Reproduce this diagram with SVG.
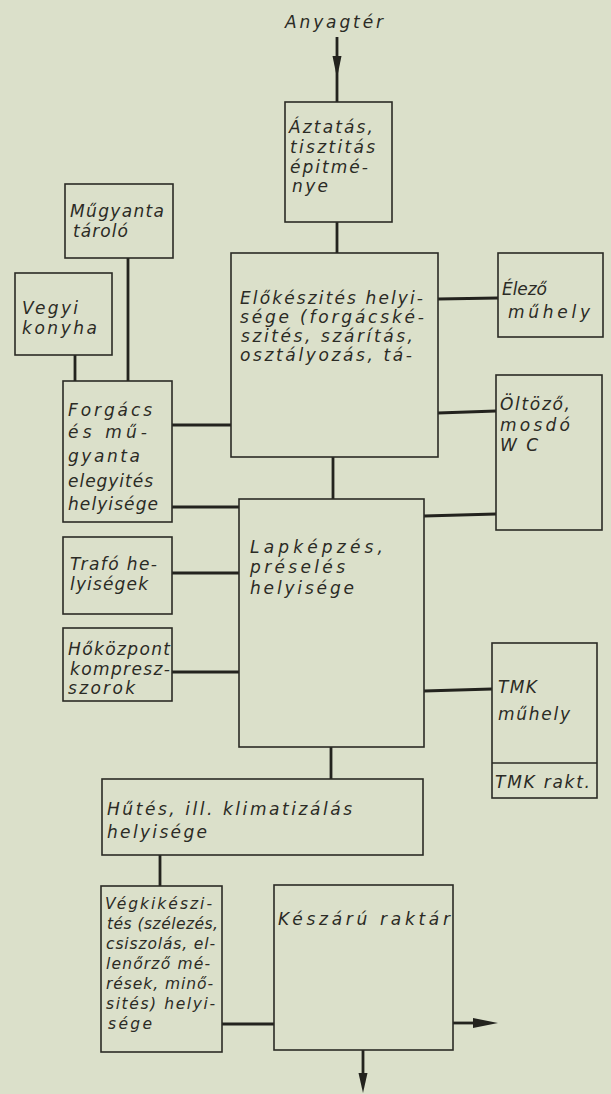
<svg xmlns="http://www.w3.org/2000/svg" width="611" height="1094" viewBox="0 0 611 1094">
  <style>
    .bg { fill: #dbe0ca; }
    .box { fill: none; stroke: #2b2b25; stroke-width: 1.6; }
    .wire { fill: none; stroke: #23231e; stroke-width: 2.8; stroke-linecap: butt; }
    .head { fill: #23231e; stroke: none; }
    text { font-family: "DejaVu Sans", "Liberation Sans", sans-serif; font-style: oblique; font-size: 17px; fill: #2b2b25; }
    .small { font-size: 15.5px; }
  </style>

  <rect class="bg" x="0" y="0" width="611" height="1094"/>

  <!-- connectors and flow arrows -->
  <g id="connectors">
    <!-- material inflow -->
    <line class="wire" x1="337" y1="37" x2="337" y2="102"/>
    <polygon class="head" points="332.5,56 341.5,56 337,78"/>
    <!-- soaking -> preparation -->
    <line class="wire" x1="337" y1="222" x2="337" y2="253"/>
    <!-- resin store -> mixing -->
    <line class="wire" x1="128" y1="258" x2="128" y2="381"/>
    <!-- chemical kitchen -> mixing -->
    <line class="wire" x1="75" y1="355" x2="75" y2="381"/>
    <!-- mixing -> preparation / pressing -->
    <line class="wire" x1="172" y1="425" x2="231" y2="425"/>
    <line class="wire" x1="172" y1="507" x2="239" y2="507"/>
    <!-- preparation -> sharpening, changing -->
    <line class="wire" x1="438" y1="299" x2="498" y2="298"/>
    <line class="wire" x1="438" y1="413" x2="496" y2="411"/>
    <!-- preparation -> pressing -->
    <line class="wire" x1="333" y1="457" x2="333" y2="499"/>
    <!-- pressing -> changing -->
    <line class="wire" x1="424" y1="516" x2="496" y2="514"/>
    <!-- transformer, heat centre -> pressing -->
    <line class="wire" x1="172" y1="573" x2="239" y2="573"/>
    <line class="wire" x1="172" y1="672" x2="239" y2="672"/>
    <!-- pressing -> maintenance -->
    <line class="wire" x1="424" y1="691" x2="492" y2="689"/>
    <!-- pressing -> cooling -->
    <line class="wire" x1="331" y1="747" x2="331" y2="779"/>
    <!-- cooling -> finishing -->
    <line class="wire" x1="160" y1="855" x2="160" y2="886"/>
    <!-- finishing -> finished goods -->
    <line class="wire" x1="222" y1="1024" x2="274" y2="1024"/>
    <!-- outflows -->
    <line class="wire" x1="453" y1="1023" x2="476" y2="1023"/>
    <polygon class="head" points="473,1018 498,1023 473,1028"/>
    <line class="wire" x1="363" y1="1050" x2="363" y2="1076"/>
    <polygon class="head" points="358.5,1073 367.5,1073 363,1093"/>
  </g>

  <g id="n-anyagter">
    <text x="285" y="28" textLength="98" lengthAdjust="spacing">Anyagtér</text>
  </g>

  <g id="n-aztatas">
    <rect class="box" x="285" y="102" width="107" height="120"/>
    <text x="289" y="133" textLength="84" lengthAdjust="spacing">Áztatás,</text>
    <text x="290" y="153" textLength="85" lengthAdjust="spacing">tisztitás</text>
    <text x="290" y="173" textLength="78" lengthAdjust="spacing">épitmé-</text>
    <text x="292" y="192" textLength="36" lengthAdjust="spacing">nye</text>
  </g>

  <g id="n-mugyanta">
    <rect class="box" x="65" y="184" width="108" height="74"/>
    <text x="70" y="217" textLength="94" lengthAdjust="spacing">Műgyanta</text>
    <text x="73" y="237" textLength="55" lengthAdjust="spacing">tároló</text>
  </g>

  <g id="n-vegyi">
    <rect class="box" x="15" y="273" width="97" height="82"/>
    <text x="22" y="314" textLength="56" lengthAdjust="spacing">Vegyi</text>
    <text x="22" y="334" textLength="75" lengthAdjust="spacing">konyha</text>
  </g>

  <g id="n-elokeszites">
    <rect class="box" x="231" y="253" width="207" height="204"/>
    <text x="240" y="304" textLength="183" lengthAdjust="spacing">Előkészités helyi-</text>
    <text x="240" y="323" textLength="184" lengthAdjust="spacing">sége (forgácské-</text>
    <text x="241" y="342" textLength="172" lengthAdjust="spacing">szités, szárítás,</text>
    <text x="240" y="361" textLength="172" lengthAdjust="spacing">osztályozás, tá-</text>
  </g>

  <g id="n-elezo">
    <rect class="box" x="498" y="253" width="105" height="84"/>
    <text x="502" y="295" textLength="45" lengthAdjust="spacing">Élező</text>
    <text x="508" y="318" textLength="82" lengthAdjust="spacing">műhely</text>
  </g>

  <g id="n-oltozo">
    <rect class="box" x="496" y="375" width="106" height="155"/>
    <text x="500" y="410" textLength="70" lengthAdjust="spacing">Öltöző,</text>
    <text x="500" y="431" textLength="70" lengthAdjust="spacing">mosdó</text>
    <text x="500" y="451" textLength="38" lengthAdjust="spacing">WC</text>
  </g>

  <g id="n-forgacs">
    <rect class="box" x="63" y="381" width="109" height="141"/>
    <text x="68" y="416" textLength="84" lengthAdjust="spacing">Forgács</text>
    <text x="68" y="438" textLength="79" lengthAdjust="spacing">és mű-</text>
    <text x="68" y="462" textLength="72" lengthAdjust="spacing">gyanta</text>
    <text x="68" y="487" textLength="85" lengthAdjust="spacing">elegyités</text>
    <text x="68" y="510" textLength="90" lengthAdjust="spacing">helyisége</text>
  </g>

  <g id="n-lapkepzes">
    <rect class="box" x="239" y="499" width="185" height="248"/>
    <text x="250" y="553" textLength="133" lengthAdjust="spacing">Lapképzés,</text>
    <text x="250" y="573" textLength="95" lengthAdjust="spacing">préselés</text>
    <text x="250" y="594" textLength="104" lengthAdjust="spacing">helyisége</text>
  </g>

  <g id="n-trafo">
    <rect class="box" x="63" y="537" width="109" height="77"/>
    <text x="70" y="570" textLength="87" lengthAdjust="spacing">Trafó he-</text>
    <text x="70" y="590" textLength="78" lengthAdjust="spacing">lyiségek</text>
  </g>

  <g id="n-hokozpont">
    <rect class="box" x="63" y="628" width="109" height="73"/>
    <text x="68" y="655" textLength="102" lengthAdjust="spacing">Hőközpont</text>
    <text x="70" y="675" textLength="100" lengthAdjust="spacing">kompresz-</text>
    <text x="68" y="694" textLength="67" lengthAdjust="spacing">szorok</text>
  </g>

  <g id="n-tmk">
    <rect class="box" x="492" y="643" width="105" height="155"/>
    <line class="box" x1="492" y1="763" x2="597" y2="763"/>
    <text x="498" y="693" textLength="39" lengthAdjust="spacing">TMK</text>
    <text x="498" y="720" textLength="72" lengthAdjust="spacing">műhely</text>
    <text x="495" y="788" textLength="95" lengthAdjust="spacing">TMK rakt.</text>
  </g>

  <g id="n-hutes">
    <rect class="box" x="102" y="779" width="321" height="76"/>
    <text x="107" y="815" textLength="245" lengthAdjust="spacing">Hűtés, ill. klimatizálás</text>
    <text x="107" y="838" textLength="100" lengthAdjust="spacing">helyisége</text>
  </g>

  <g id="n-vegkikeszites">
    <rect class="box" x="101" y="886" width="121" height="166"/>
    <text class="small" x="105" y="909" textLength="107" lengthAdjust="spacing">Végkikészi-</text>
    <text class="small" x="107" y="929" textLength="111" lengthAdjust="spacing">tés (szélezés,</text>
    <text class="small" x="106" y="949" textLength="109" lengthAdjust="spacing">csiszolás, el-</text>
    <text class="small" x="106" y="969" textLength="104" lengthAdjust="spacing">lenőrző mé-</text>
    <text class="small" x="106" y="989" textLength="107" lengthAdjust="spacing">rések, minő-</text>
    <text class="small" x="106" y="1009" textLength="109" lengthAdjust="spacing">sités) helyi-</text>
    <text class="small" x="108" y="1029" textLength="44" lengthAdjust="spacing">sége</text>
  </g>

  <g id="n-keszaru">
    <rect class="box" x="274" y="885" width="179" height="165"/>
    <text x="278" y="925" textLength="172" lengthAdjust="spacing">Készárú raktár</text>
  </g>
</svg>
